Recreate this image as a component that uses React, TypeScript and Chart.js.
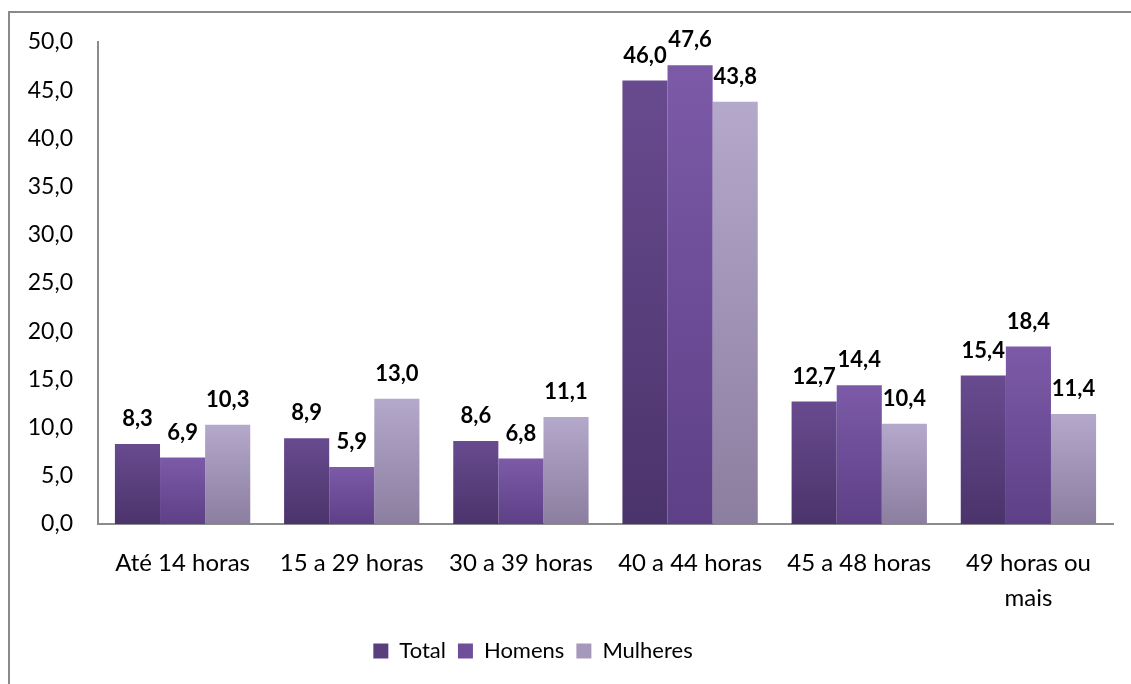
import React, { useEffect, useRef } from "react";
import { Chart, registerables } from "chart.js";

Chart.register(...registerables);

const categories: (string | string[])[] = [
  "Até 14 horas",
  "15 a 29 horas",
  "30 a 39 horas",
  "40 a 44 horas",
  "45 a 48 horas",
  ["49 horas ou", "mais"],
];
const totalValues = [8.3, 8.9, 8.6, 46.0, 12.7, 15.4];
const homensValues = [6.9, 5.9, 6.8, 47.6, 14.4, 18.4];
const mulheresValues = [10.3, 13.0, 11.1, 43.8, 10.4, 11.4];
const seriesNames = ["Total", "Homens", "Mulheres"];
const yMin = 0;
const yMax = 50;
const yStep = 5;

const FONT = "Lato, 'Liberation Sans', sans-serif";
const fmt = (v: number) => v.toFixed(1).replace(".", ",");

const palette = [
  { top: "#684b8f", bottom: "#4b336b", legend: "#5a3f7e" },
  { top: "#7c5aa8", bottom: "#5d4086", legend: "#6f4f99" },
  { top: "#b4a8cb", bottom: "#8b7e9f", legend: "#a698ba" },
];

function gradientFor(idx: number) {
  return (ctx: any) => {
    const chart = ctx.chart;
    const area = chart.chartArea;
    const pal = palette[idx];
    if (ctx.type !== "data" || !area) return pal.legend;
    const yScale = chart.scales.y;
    const v = ctx.raw as number;
    const top = yScale.getPixelForValue(v);
    const bottom = yScale.getPixelForValue(0);
    if (!isFinite(top) || bottom - top < 1) return pal.legend;
    const g = chart.ctx.createLinearGradient(0, top, 0, bottom);
    g.addColorStop(0, pal.top);
    g.addColorStop(1, pal.bottom);
    return g;
  };
}

const valueLabels = {
  id: "valueLabels",
  afterDatasetsDraw(chart: any) {
    const ctx = chart.ctx;
    ctx.save();
    ctx.font = `bold 22px ${FONT}`;
    ctx.fillStyle = "#000";
    ctx.textAlign = "center";
    ctx.textBaseline = "middle";
    chart.data.datasets.forEach((ds: any, di: number) => {
      const meta = chart.getDatasetMeta(di);
      meta.data.forEach((el: any, i: number) => {
        ctx.fillText(fmt(ds.data[i]), el.x, el.y - 25);
      });
    });
    ctx.restore();
  },
};

const legendShift = {
  id: "legendShift",
  beforeDraw(chart: any) {
    const lg = chart.legend;
    if (!lg) return;
    lg.left = 0;
    lg.right = 1066;
    lg.width = 1066;
  },
};

export default function App() {
  const ref = useRef<HTMLCanvasElement | null>(null);
  useEffect(() => {
    if (!ref.current) return;
    const chart = new Chart(ref.current, {
      type: "bar",
      data: {
        labels: categories,
        datasets: [totalValues, homensValues, mulheresValues].map((d, i) => ({
          label: seriesNames[i],
          data: d,
          backgroundColor: gradientFor(i),
          borderWidth: 0,
          barPercentage: 1,
          categoryPercentage: 0.8,
        })),
      },
      options: {
        animation: false,
        responsive: false,
        maintainAspectRatio: false,
        layout: { padding: { left: 0, right: 18, top: 42, bottom: 12 } },
        plugins: {
          tooltip: { enabled: false },
          legend: {
            position: "bottom",
            labels: {
              font: { family: FONT, size: 22 },
              color: "#000",
              boxWidth: 15,
              boxHeight: 15,
              padding: 12,
              generateLabels: (chart: any) =>
                chart.data.datasets.map((ds: any, i: number) => ({
                  text: ds.label,
                  fillStyle: palette[i].legend,
                  strokeStyle: palette[i].legend,
                  lineWidth: 0,
                  hidden: false,
                  datasetIndex: i,
                  fontColor: "#000",
                })),
            },
          },
        },
        scales: {
          x: {
            grid: { display: false, drawTicks: false },
            border: { display: true, color: "#8c8c8c", width: 2 },
            ticks: {
              font: { family: FONT, size: 24, lineHeight: 1.45 },
              color: "#000",
              maxRotation: 0,
              autoSkip: false,
              padding: 22,
            },
            afterFit: (s: any) => {
              s.height = 104;
            },
          },
          y: {
            min: yMin,
            max: yMax,
            grid: { display: false, drawTicks: false },
            border: { display: true, color: "#8c8c8c", width: 2 },
            ticks: {
              stepSize: yStep,
              font: { family: FONT, size: 23 },
              color: "#000",
              padding: 25,
              callback: (v: any) => fmt(Number(v)),
            },
            afterFit: (s: any) => {
              s.width = 98;
            },
          },
        },
      },
      plugins: [valueLabels, legendShift],
    });
    return () => chart.destroy();
  }, []);

  return (
    <div style={{ position: "fixed", left: 0, top: 0, width: 1131, height: 684, background: "#fff", overflow: "hidden" }}>
      <div
        style={{
          position: "absolute",
          left: 8,
          top: 11,
          width: 2000,
          height: 2000,
          borderTop: "2px solid #8a8a8a",
          borderLeft: "2px solid #8a8a8a",
        }}
      />
      <canvas ref={ref} width={1131} height={684} style={{ position: "absolute", left: 0, top: 0, width: 1131, height: 684 }} />
    </div>
  );
}
